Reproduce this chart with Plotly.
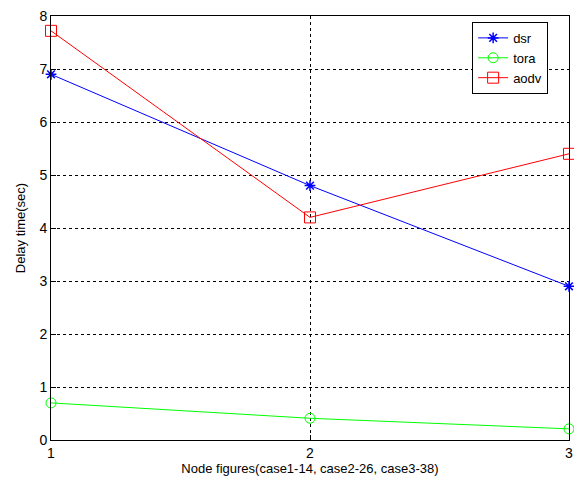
import plotly.graph_objects as go

cases = [1, 2, 3]
dsr = [6.9, 4.8, 2.9]
tora = [0.7, 0.41, 0.21]
aodv = [7.72, 4.2, 5.4]

fig = go.Figure()
fig.add_trace(go.Scatter(x=cases, y=dsr, name="dsr", mode="lines+markers",
                         line=dict(color="#0000ff", width=1),
                         marker=dict(symbol="asterisk-open", size=9, line=dict(color="#0000ff", width=1.5)),
                         cliponaxis=False))
fig.add_trace(go.Scatter(x=cases, y=tora, name="tora", mode="lines+markers",
                         line=dict(color="#00ff00", width=1),
                         marker=dict(symbol="circle-open", size=10, line=dict(color="#00ff00", width=1)),
                         cliponaxis=False))
fig.add_trace(go.Scatter(x=cases, y=aodv, name="aodv", mode="lines+markers",
                         line=dict(color="#ff0000", width=1),
                         marker=dict(symbol="square-open", size=11, line=dict(color="#ff0000", width=1)),
                         cliponaxis=False))

axis_common = dict(showline=True, linecolor="black", linewidth=1, mirror=True,
                   ticks="inside", ticklen=5, tickcolor="black",
                   showgrid=True, gridcolor="black", gridwidth=1, griddash="3px,3px",
                   zeroline=False, ticklabeloverflow="allow",
                   tickfont=dict(family="Liberation Sans, Arial", size=14, color="black"))

fig.update_xaxes(range=[1, 3], tickvals=[1, 2, 3], **axis_common,
                 title=dict(text="Node figures(case1-14, case2-26, case3-38)",
                            font=dict(family="Liberation Sans, Arial", size=13, color="black"), standoff=4))
fig.update_yaxes(range=[0, 8], tickvals=list(range(0, 9)), **axis_common,
                 title=dict(text="Delay time(sec)",
                            font=dict(family="Liberation Sans, Arial", size=13, color="black"), standoff=10))

fig.update_layout(width=574, height=479, plot_bgcolor="white", paper_bgcolor="white",
                  margin=dict(l=43, r=13, t=8, b=47, autoexpand=False),
                  font=dict(family="Liberation Sans, Arial", color="black"),
                  legend=dict(x=0.813, y=0.986, xanchor="left", yanchor="top",
                              bgcolor="white", bordercolor="black", borderwidth=1,
                              font=dict(size=13), tracegroupgap=0, itemwidth=30))

fig.write_html("out.html")
